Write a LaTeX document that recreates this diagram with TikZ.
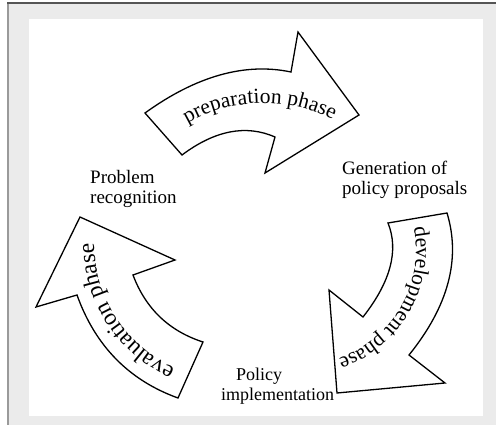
\documentclass[tikz,border=0pt]{standalone}
\usepackage{fontspec}
\setmainfont{Liberation Serif}
\usetikzlibrary{decorations.text}
\definecolor{bggray}{HTML}{EBEBEB}
\definecolor{leftline}{HTML}{9A9A9A}
\definecolor{topline}{HTML}{555555}
\newcommand\prepfont{\fontsize{21.5}{25}\selectfont}
\newcommand\evalfont{\fontsize{23.5}{27}\selectfont}
\tikzset{
  arrowshape/.style={draw=black, line width=1.3pt, fill=white, line join=miter},
  lbl/.style={font=\fontsize{19}{20}\selectfont, align=left, inner sep=0pt, anchor=base west},
}
\begin{document}
\begin{tikzpicture}[x=1pt,y=-1pt]
\useasboundingbox (0,0) rectangle (496,425);
\fill[white] (0,0) rectangle (496,425);
\fill[bggray] (8,3) rectangle (496,425);
\draw[line width=1.7pt, leftline] (8,3) -- (8,425);
\draw[line width=1.2pt, topline] (7.2,3) -- (496,3);
\fill[white] (29,19) rectangle (483,416);

% preparation arrow
\draw[arrowshape] (291,72) .. controls (245,62.3) and (196.3,76) .. (145,113)
  -- (182,155) .. controls (215,130.3) and (246,124.3) .. (275,137)
  -- (265,173) -- (359,115) -- (298,32) -- cycle;
% development arrow
\draw[arrowshape] (447,213) .. controls (461,259) and (448.3,306.3) .. (409,355)
  -- (445,383) -- (337,393) -- (329,290) -- (363,317)
  .. controls (390.7,281.7) and (399,250.3) .. (388,223) -- cycle;
% evaluation arrow
\draw[arrowshape] (77,295) .. controls (95.3,346) and (129,380.3) .. (178,398)
  -- (203,342) .. controls (169,331) and (145.7,308.7) .. (133,275)
  -- (175,260) -- (80,217) -- (36,307) -- cycle;

% texts along arrows
\path[decorate, decoration={text along path, text align=center, text={|\prepfont|preparation phase}}]
  plot[domain=-150:-33, samples=80] ({263.5+151*cos(\x)}, {254+151*sin(\x)});
\path[decorate, decoration={text along path, text align=center, text={|\prepfont|development phase}}]
  plot[domain=-30:90, samples=80] ({301+115*cos(\x)}, {250+115*sin(\x)});
\path[decorate, decoration={text along path, text align=center, text={|\evalfont|evaluation phase}}]
  plot[domain=87:207, samples=80] ({233+139*cos(\x)}, {242+139*sin(\x)});

% labels (anchor base = baseline of the last line)
\node[lbl] (prob) at (90,204) {Problem\\recognition};
\node[lbl] (gen) at (342,195) {Generation of\\policy proposals};
\node[lbl, font=\fontsize{18}{20}\selectfont] (impl) at (221,400) {\hspace*{15pt}Policy\\implementation};
\end{tikzpicture}
\end{document}
